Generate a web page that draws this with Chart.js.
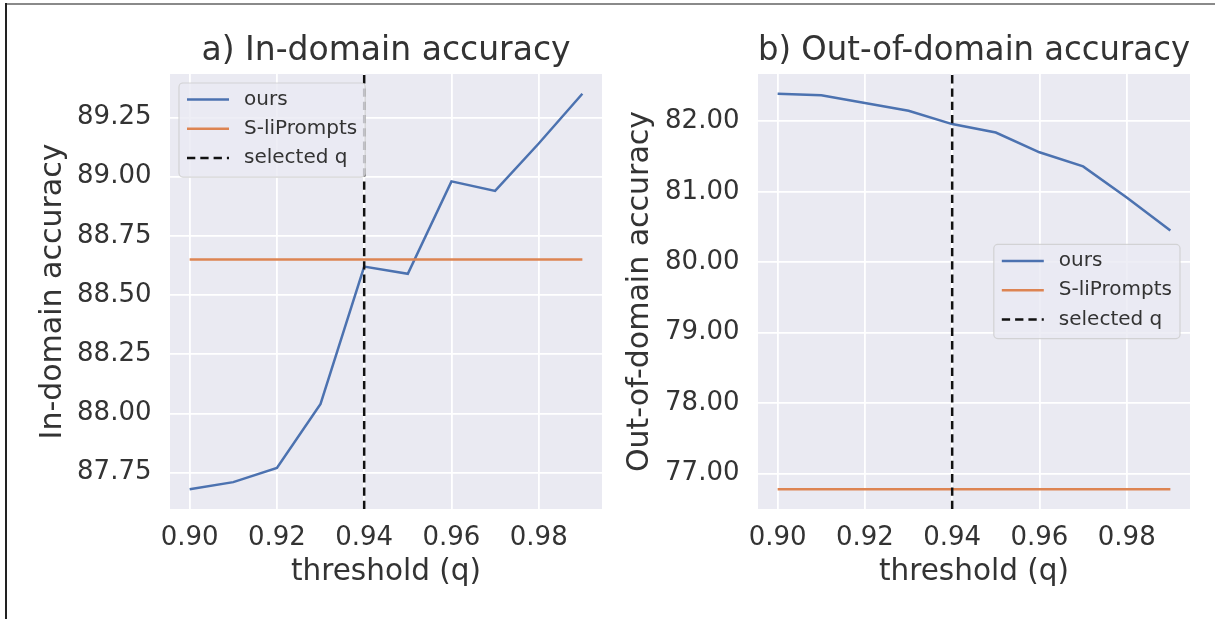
<!DOCTYPE html>
<html>
<head>
<meta charset="utf-8">
<script src="https://cdn.jsdelivr.net/npm/chart.js@4/dist/chart.umd.min.js"></script>
<style>
  html, body { margin: 0; padding: 0; background: #fff; }
  #page { position: relative; width: 1215px; height: 619px; overflow: hidden; background: #fff; }
  #page canvas { position: absolute; top: 0; }
  #chartIn { left: 0; }
  #chartOut { left: 607px; }
  .edge { position: absolute; z-index: 2; }
  #edgeTop { left: 6px; top: 3px; width: 1209px; height: 1.5px; background: #8a8a8a; }
  #edgeLeft { left: 5px; top: 3px; bottom: 0; width: 1.6px; background: #222; }
</style>
</head>
<body>
<div id="page">
  <canvas id="chartIn" width="607" height="619"></canvas>
  <canvas id="chartOut" width="608" height="619"></canvas>
  <div class="edge" id="edgeTop"></div>
  <div class="edge" id="edgeLeft"></div>
</div>
<script>
// values
var thresholds = [0.90, 0.91, 0.92, 0.93, 0.94, 0.95, 0.96, 0.97, 0.98, 0.99];
var oursIn  = [87.68, 87.71, 87.77, 88.04, 88.62, 88.59, 88.98, 88.94, 89.14, 89.35];
var sliIn   = [88.65, 88.65, 88.65, 88.65, 88.65, 88.65, 88.65, 88.65, 88.65, 88.65];
var oursOut = [82.39, 82.37, 82.26, 82.15, 81.96, 81.84, 81.56, 81.36, 80.92, 80.45];
var sliOut  = [76.78, 76.78, 76.78, 76.78, 76.78, 76.78, 76.78, 76.78, 76.78, 76.78];
var selectedQ = 0.94;

var xTicks    = [0.90, 0.92, 0.94, 0.96, 0.98];
var yTicksIn  = [87.75, 88.00, 88.25, 88.50, 88.75, 89.00, 89.25];
var yTicksOut = [77, 78, 79, 80, 81, 82];

var seriesNames = ['ours', 'S-liPrompts', 'selected q'];

var FONT = '"DejaVu Sans", "Liberation Sans", sans-serif';
var TEXT = '#333333';
var BLUE = '#4C72B0';
var ORANGE = '#DD8452';

Chart.defaults.font.family = FONT;
Chart.defaults.color = TEXT;

// matplotlib style 5% margins
function padRange(vals) {
	var lo = Math.min.apply(null, vals), hi = Math.max.apply(null, vals);
	var m = (hi - lo) * 0.05;
	return [lo - m, hi + m];
}

function toPoints(xs, ys) {
	return xs.map(function(x, i){ return {x: x, y: ys[i]}; });
}

var plotBg = {
	id: 'plotBg',
	beforeDraw: function(chart){
		var a = chart.chartArea, ctx = chart.ctx;
		ctx.save();
		ctx.fillStyle = '#EAEAF2';
		ctx.fillRect(a.left, a.top, a.right - a.left, a.bottom - a.top);
		ctx.restore();
	}
};

// framed legend inside the axes, like matplotlib's
var boxLegend = {
	id: 'boxLegend',
	afterDatasetsDraw: function(chart, args, opts){
		var ctx = chart.ctx, a = chart.chartArea;
		var items = chart.data.datasets;
		ctx.save();
		ctx.font = '20px ' + FONT;
		var tw = 0;
		items.forEach(function(ds){ tw = Math.max(tw, ctx.measureText(ds.label).width); });
		var rowH = 29.3;
		var w = 8 + 42 + 15 + tw + 8;
		var h = 16.5 + rowH * (items.length - 1) + 19;
		var x, y;
		if (opts.place === 'upper left') {
			x = a.left + 9; y = a.top + 9;
		} else {
			x = a.right - 10 - w; y = (a.top + a.bottom) / 2 - h / 2;
		}
		ctx.beginPath();
		ctx.roundRect(x, y, w, h, 4);
		ctx.fillStyle = 'rgba(234,234,242,0.8)';
		ctx.fill();
		ctx.strokeStyle = 'rgba(204,204,204,0.8)';
		ctx.lineWidth = 1.2;
		ctx.stroke();
		items.forEach(function(ds, i){
			var cy = y + 16.5 + i * rowH;
			ctx.beginPath();
			ctx.setLineDash(ds.borderDash || []);
			ctx.strokeStyle = ds.borderColor;
			ctx.lineWidth = ds.borderWidth;
			ctx.moveTo(x + 8, cy);
			ctx.lineTo(x + 50, cy);
			ctx.stroke();
			ctx.setLineDash([]);
			ctx.fillStyle = TEXT;
			ctx.textBaseline = 'middle';
			ctx.textAlign = 'left';
			ctx.fillText(ds.label, x + 65, cy);
		});
		ctx.restore();
	}
};

function makeChart(id, cfg) {
	var xr = padRange(thresholds);
	var yr = padRange(cfg.ours.concat(cfg.sli));

	var settings = {
		type: 'line',
		data: {
			datasets: [{
				label: seriesNames[0],
				data: toPoints(thresholds, cfg.ours),
				borderColor: BLUE,
				borderWidth: 2.5,
				pointRadius: 0,
				tension: 0,
				order: 3
			}, {
				label: seriesNames[1],
				data: toPoints(thresholds, cfg.sli),
				borderColor: ORANGE,
				borderWidth: 2.5,
				pointRadius: 0,
				order: 2
			}, {
				label: seriesNames[2],
				data: [{x: selectedQ, y: yr[0]}, {x: selectedQ, y: yr[1]}],
				borderColor: '#111111',
				borderWidth: 2.5,
				borderDash: [8.3, 5],
				pointRadius: 0,
				order: 1
			}]
		},
		options: {
			responsive: false,
			animation: false,
			events: [],
			layout: { padding: { left: 0, right: cfg.padRight, top: 0, bottom: 0 } },
			plugins: {
				legend: { display: false },
				tooltip: { enabled: false },
				title: {
					display: true,
					text: cfg.title,
					fullSize: false,
					font: { size: 33, weight: 'normal' },
					color: TEXT,
					padding: { top: 32, bottom: 2.4 }
				},
				boxLegend: { place: cfg.legend }
			},
			scales: {
				x: {
					type: 'linear',
					min: xr[0],
					max: xr[1],
					afterBuildTicks: function(axis){ axis.ticks = xTicks.map(function(v){ return {value: v}; }); },
					afterFit: function(axis){ axis.height = 110; },
					ticks: {
						font: { size: 26 },
						color: TEXT,
						padding: 13.4,
						maxRotation: 0,
						callback: function(v){ return Number(v).toFixed(2); }
					},
					grid: { color: '#ffffff', lineWidth: 1.8, drawTicks: false },
					border: { display: false },
					title: {
						display: true,
						text: 'threshold (q)',
						font: { size: 29.5 },
						color: TEXT,
						padding: { top: 0, bottom: 28.8 }
					}
				},
				y: {
					type: 'linear',
					min: yr[0],
					max: yr[1],
					afterBuildTicks: function(axis){ axis.ticks = cfg.yTicks.map(function(v){ return {value: v}; }); },
					afterFit: function(axis){ axis.width = cfg.yWidth; },
					ticks: {
						font: { size: 26 },
						color: TEXT,
						padding: 18.5,
						callback: function(v){ return Number(v).toFixed(2); }
					},
					grid: { color: '#ffffff', lineWidth: 1.8, drawTicks: false },
					border: { display: false },
					title: {
						display: true,
						text: cfg.yTitle,
						font: { size: 30 },
						color: TEXT,
						padding: { top: cfg.yTitlePad, bottom: 0 }
					}
				}
			}
		},
		plugins: [plotBg, boxLegend]
	};

	return new Chart(document.getElementById(id), settings);
}

makeChart('chartIn', {
	title: 'a) In-domain accuracy',
	yTitle: 'In-domain accuracy',
	ours: oursIn,
	sli: sliIn,
	yTicks: yTicksIn,
	yWidth: 170,
	yTitlePad: 35,
	padRight: 5,
	legend: 'upper left'
});

makeChart('chartOut', {
	title: 'b) Out-of-domain accuracy',
	yTitle: 'Out-of-domain accuracy',
	ours: oursOut,
	sli: sliOut,
	yTicks: yTicksOut,
	yWidth: 151,
	yTitlePad: 15.6,
	padRight: 25,
	legend: 'center right'
});
</script>
</body>
</html>
